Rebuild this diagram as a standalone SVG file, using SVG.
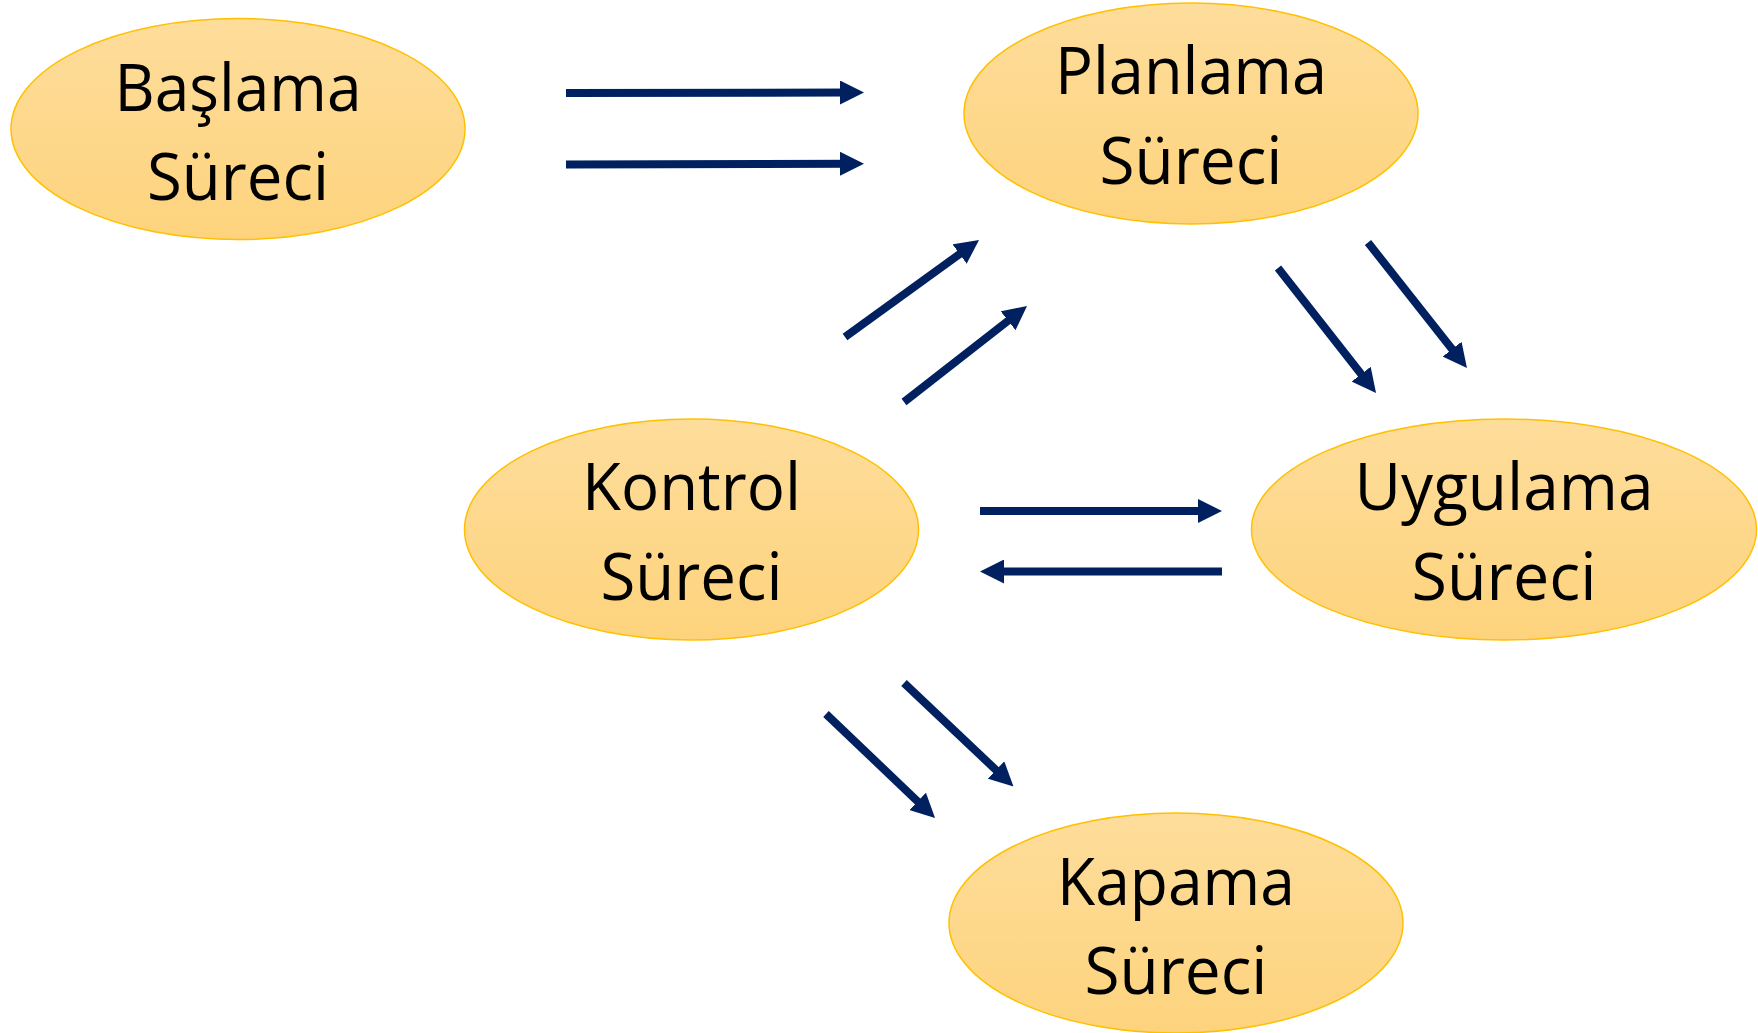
<svg xmlns="http://www.w3.org/2000/svg" width="1758" height="1033" viewBox="0 0 1758 1033">
  <defs>
    <linearGradient id="fillG" x1="0" y1="0" x2="0" y2="1">
      <stop offset="0" stop-color="#FEDD9B"/>
      <stop offset="1" stop-color="#FDD37D"/>
    </linearGradient>
    <marker id="ah" viewBox="0 0 24 24" markerUnits="userSpaceOnUse" markerWidth="24" markerHeight="24" refX="10" refY="12" orient="auto">
      <path d="M0,0 L24,12 L0,24 z" fill="#002060"/>
    </marker>
    <style>
      .node ellipse { fill: url(#fillG); stroke: #FFC000; stroke-width: 1.5; }
      .node text { font-family: "Open Sans", "Liberation Sans", sans-serif; font-size: 66px; fill: #000; text-anchor: middle; }
      .conn line { stroke: #002060; stroke-width: 8; fill: none; marker-end: url(#ah); }
    </style>
  </defs>
  <rect width="1758" height="1033" fill="#FFFFFF"/>

  <g id="connectors" class="conn">
    <line x1="566" y1="93" x2="850" y2="92.5"/>
    <line x1="566" y1="164.5" x2="850" y2="163.7"/>
    <line x1="845" y1="337" x2="967.7" y2="248.2"/>
    <line x1="904" y1="402" x2="1016" y2="314.6"/>
    <line x1="1278" y1="268" x2="1367.4" y2="382"/>
    <line x1="1368" y1="242.5" x2="1458.3" y2="357"/>
    <line x1="980" y1="511" x2="1208" y2="511"/>
    <line x1="1222" y1="571.5" x2="994" y2="571.5"/>
    <line x1="826" y1="714" x2="924.9" y2="808.3"/>
    <line x1="904" y1="683" x2="1003.3" y2="776.9"/>
  </g>

  <g id="node-baslama" class="node">
    <ellipse cx="238" cy="129" rx="227" ry="110.5"/>
    <text x="238" y="110.5" textLength="247" lengthAdjust="spacingAndGlyphs">Başlama</text>
    <text x="238" y="200" textLength="182" lengthAdjust="spacingAndGlyphs">Süreci</text>
  </g>

  <g id="node-planlama" class="node">
    <ellipse cx="1191" cy="113.5" rx="227" ry="110.5"/>
    <text x="1191" y="94.3" textLength="272" lengthAdjust="spacingAndGlyphs">Planlama</text>
    <text x="1191" y="184" textLength="183" lengthAdjust="spacingAndGlyphs">Süreci</text>
  </g>

  <g id="node-kontrol" class="node">
    <ellipse cx="691.5" cy="529.5" rx="227" ry="110.5"/>
    <text x="691.5" y="510" textLength="219" lengthAdjust="spacingAndGlyphs">Kontrol</text>
    <text x="691.5" y="600" textLength="182" lengthAdjust="spacingAndGlyphs">Süreci</text>
  </g>

  <g id="node-uygulama" class="node">
    <ellipse cx="1504" cy="529.5" rx="252.5" ry="110.5"/>
    <text x="1504" y="510" textLength="299" lengthAdjust="spacingAndGlyphs">Uygulama</text>
    <text x="1504" y="600" textLength="185" lengthAdjust="spacingAndGlyphs">Süreci</text>
  </g>

  <g id="node-kapama" class="node">
    <ellipse cx="1176" cy="923" rx="227" ry="110"/>
    <text x="1176" y="905" textLength="238" lengthAdjust="spacingAndGlyphs">Kapama</text>
    <text x="1176" y="994" textLength="183" lengthAdjust="spacingAndGlyphs">Süreci</text>
  </g>
</svg>
